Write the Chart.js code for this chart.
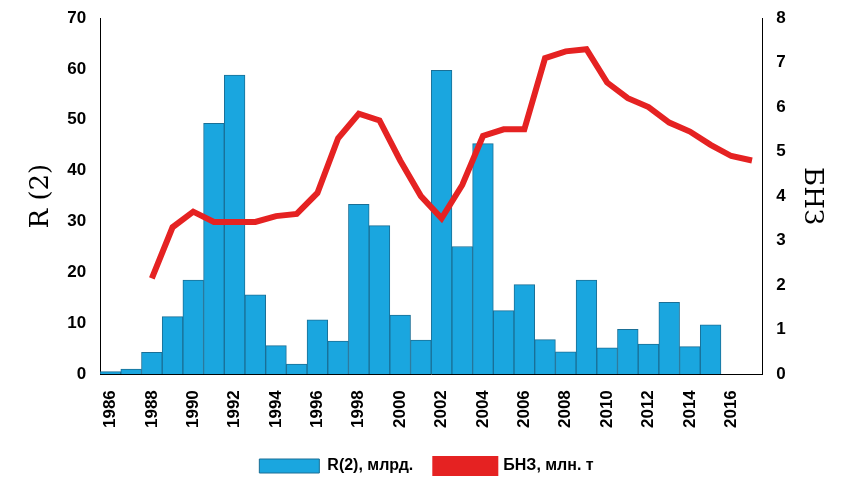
<!DOCTYPE html>
<html><head><meta charset="utf-8">
<script src="https://cdn.jsdelivr.net/npm/chart.js@4"></script>
<style>body{margin:0;background:#fff}#w{width:843px;height:486px}</style>
</head><body><div id="w"><canvas id="c"></canvas></div>
<script>
// years and values
const years = [];
for (let y = 1986; y <= 2017; y++) years.push(String(y));
const recruits = [0.5,1,4.3,11.3,18.5,49.3,58.8,15.6,5.6,2,10.7,6.5,33.4,29.2,11.6,6.7,59.7,25.1,45.3,12.5,17.6,6.8,4.4,18.5,5.2,8.8,5.9,14.1,5.4,9.7,null,null];
const biomass = [null,null,2.15,3.3,3.65,3.42,3.42,3.42,3.55,3.6,4.07,5.3,5.85,5.7,4.8,4.0,3.5,4.25,5.35,5.5,5.5,7.1,7.25,7.3,6.55,6.2,6.0,5.65,5.45,5.15,4.9,4.8];

const tickFont = {family:'Arial', size:17, weight:'bold'};
new Chart(document.getElementById('c'), {
  data: {
    labels: years,
    datasets: [
      {type:'line', label:'БНЗ, млн. т', data:biomass, yAxisID:'y2', borderColor:'#e52222', backgroundColor:'#e52222', borderWidth:6, pointRadius:0, tension:0, order:0},
      {type:'bar', label:'R(2), млрд.', data:recruits, yAxisID:'y', backgroundColor:'#1aa6df', borderColor:'#1a6f96', borderWidth:1, barPercentage:1, categoryPercentage:1, order:1}
    ]
  },
  options: {
    responsive:true, maintainAspectRatio:false, animation:false,
    layout:{padding:{left:22,right:12,top:18,bottom:2}},
    plugins:{
      legend:{position:'bottom', reverse:true, labels:{font:{family:'Arial',size:16,weight:'bold'}, color:'#000', boxWidth:60, boxHeight:14, padding:22}},
      tooltip:{enabled:false}
    },
    scales:{
      x:{grid:{display:false}, border:{color:'#000'}, ticks:{color:'#000', font:tickFont, padding:8, maxRotation:90, minRotation:90, autoSkip:false, callback:(v,i)=> i%2===0 ? years[i] : ''}},
      y:{min:0,max:70, ticks:{stepSize:10,color:'#000',font:tickFont,padding:6}, grid:{display:false}, border:{color:'#000'},
         title:{display:true,text:'R (2)',color:'#000',font:{family:'DejaVu Serif',size:26}}},
      y2:{position:'right',min:0,max:8, ticks:{stepSize:1,color:'#000',font:tickFont,padding:6}, grid:{display:false}, border:{color:'#000'},
         title:{display:true,text:'БНЗ',color:'#000',font:{family:'DejaVu Serif',size:26}}}
    }
  }
});
</script></body></html>
